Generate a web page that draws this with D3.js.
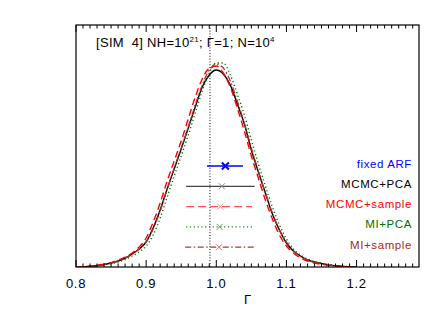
<!DOCTYPE html>
<html>
<head>
<meta charset="utf-8">
<script src="https://cdn.jsdelivr.net/npm/d3@7"></script>
<style>
  body { margin: 0; background: #fff; }
  svg { display: block; font-family: "Liberation Sans", Arial, sans-serif; }
</style>
</head>
<body>
<div id="chart"></div>
<script>
var svgWidth = 443;
var svgHeight = 317;

var margin = { top: 25, right: 24, bottom: 50, left: 76 };
var width = svgWidth - margin.left - margin.right;
var height = svgHeight - margin.top - margin.bottom;

// gamma grid for the posterior curves
var gammaGrid = [0.80, 0.81, 0.82, 0.83, 0.84, 0.85, 0.86, 0.87, 0.88, 0.89,
  0.90, 0.91, 0.92, 0.93, 0.94, 0.95, 0.96, 0.97, 0.98, 0.99,
  1.00, 1.01, 1.02, 1.03, 1.04, 1.05, 1.06, 1.07, 1.08, 1.09,
  1.10, 1.11, 1.12, 1.13, 1.14, 1.15, 1.16, 1.17, 1.18, 1.19, 1.20];

// posterior densities (arbitrary units)
var mcmcPca = [0, 0.3, 0.7, 1.5, 2.5, 4, 6, 9, 13, 18,
  25, 39, 57, 78, 98, 118, 139, 160, 180, 192,
  197, 193, 182, 163, 143, 117, 95, 74, 53, 37,
  24, 16, 11, 7, 5, 3.5, 2, 1.2, 0.6, 0.3, 0];
var mcmcSample = [0, 0.3, 0.8, 1.6, 2.8, 4.4, 6.8, 10, 14, 20,
  29, 45, 64, 86, 106, 126, 148, 170, 188, 199,
  201, 194, 180, 159, 136, 111, 89, 67, 48, 32,
  21, 14, 9, 6, 4, 2.7, 1.6, 0.9, 0.4, 0.2, 0];
var miPca = [0, 0.2, 0.5, 1.1, 2, 3.2, 5, 7.5, 11, 15,
  21, 32, 49, 70, 91, 111, 132, 154, 176, 194,
  204, 204, 192, 173, 152, 127, 103, 81, 60, 42,
  28, 18, 12, 8, 5.5, 3.8, 2.4, 1.4, 0.8, 0.4, 0];
var miSample = [0, 0.3, 0.7, 1.4, 2.5, 3.9, 6, 9, 12.5, 18,
  25, 38, 56, 78, 99, 119, 140, 162, 182, 197,
  203, 199, 186, 166, 144, 119, 96, 74, 54, 37,
  25, 16, 10.5, 7, 4.7, 3.2, 2, 1.1, 0.6, 0.3, 0];

// error bar summaries
var methods = ["fixed ARF", "MCMC+PCA", "MCMC+sample", "MI+PCA", "MI+sample"];
var centers = [1.0129, 1.008, 1.0057, 1.0048, 1.0038];
var lows = [0.9867, 0.957, 0.957, 0.957, 0.9557];
var highs = [1.038, 1.0547, 1.051, 1.0543, 1.0543];

var trueGamma = 0.991;
var xTicks = [0.8, 0.9, 1.0, 1.1, 1.2];

var colors = {
  "fixed ARF": "#0000ff",
  "MCMC+PCA": "#000000",
  "MCMC+sample": "#ff0000",
  "MI+PCA": "#007000",
  "MI+sample": "#a02828"
};
var barColors = ["#0000ff", "#444444", "#ff5050", "#208020", "#a83838"];
var markColors = ["#0000ff", "#888888", "#ff9090", "#60a060", "#d08080"];
var dashes = [null, null, "8,4", "1.2,2.6", "6,2.5,1.5,2.5"];

var svg = d3.select("#chart")
  .append("svg")
  .attr("width", svgWidth)
  .attr("height", svgHeight);

var chartGroup = svg.append("g")
  .attr("transform", `translate(${margin.left}, ${margin.top})`);

var xScale = d3.scaleLinear().domain([0.8, 1.289]).range([0, width]);
var yScale = d3.scaleLinear().domain([0, 242]).range([height, 0]);

// clip
svg.append("clipPath").attr("id", "clip")
  .append("rect").attr("width", width).attr("height", height);

// curves
var line = d3.line()
  .x((d, i) => xScale(gammaGrid[i]))
  .y(d => yScale(d))
  .curve(d3.curveMonotoneX);

var curveGroup = chartGroup.append("g").attr("clip-path", "url(#clip)");
var curves = [
  { vals: mcmcPca, color: "#000000", dash: null, w: 1.4 },
  { vals: miSample, color: "#b03030", dash: "6,2.5,1.5,2.5", w: 1.3 },
  { vals: miPca, color: "#007000", dash: "1.2,2.6", w: 1.4 },
  { vals: mcmcSample, color: "#ff0000", dash: "7,4", w: 1.4 }
];
curves.forEach(function(c) {
  curveGroup.append("path")
    .datum(c.vals)
    .attr("d", line)
    .attr("fill", "none")
    .attr("stroke", c.color)
    .attr("stroke-width", c.w)
    .attr("stroke-dasharray", c.dash);
});

// true value line
chartGroup.append("line")
  .attr("x1", xScale(trueGamma)).attr("x2", xScale(trueGamma))
  .attr("y1", 0).attr("y2", height)
  .attr("stroke", "#000")
  .attr("stroke-width", 1)
  .attr("stroke-dasharray", "1,1.8");

// error bars + legend
var rowY = i => 141 + i * 20.3;
methods.forEach(function(m, i) {
  var y = rowY(i);
  chartGroup.append("line")
    .attr("x1", xScale(lows[i])).attr("x2", xScale(highs[i]))
    .attr("y1", y).attr("y2", y)
    .attr("stroke", barColors[i])
    .attr("stroke-width", i === 0 ? 1.5 : 1.3)
    .attr("stroke-dasharray", dashes[i]);
  var cx = xScale(centers[i]);
  var s = i === 0 ? 3.5 : 3;
  chartGroup.append("path")
    .attr("d", `M${cx - s},${y - s}L${cx + s},${y + s}M${cx - s},${y + s}L${cx + s},${y - s}`)
    .attr("stroke", markColors[i])
    .attr("stroke-width", i === 0 ? 2 : 1)
    .attr("fill", "none");
  chartGroup.append("text")
    .attr("x", 336)
    .attr("y", y + 1.5)
    .attr("text-anchor", "end")
    .attr("font-size", "11.5px")
    .attr("letter-spacing", "0.6px")
    .attr("fill", colors[m])
    .text(m);
});

// axes: bottom and top with minor ticks
var minorTicks = d3.range(80, 129).map(d => d / 100);
function drawTicks(y0, dir) {
  chartGroup.append("g").selectAll("line")
    .data(minorTicks)
    .enter()
    .append("line")
    .attr("x1", d => xScale(d)).attr("x2", d => xScale(d))
    .attr("y1", y0)
    .attr("y2", d => y0 + dir * (xTicks.some(t => Math.abs(t - d) < 1e-6) ? 7 : 3.5))
    .attr("stroke", "#000")
    .attr("stroke-width", 1);
}
drawTicks(height, -1);
drawTicks(0, 1);

chartGroup.append("rect")
  .attr("width", width).attr("height", height)
  .attr("fill", "none")
  .attr("stroke", "#000")
  .attr("stroke-width", 1.2);

chartGroup.append("g").selectAll("text")
  .data(xTicks)
  .enter()
  .append("text")
  .attr("x", d => xScale(d))
  .attr("y", height + 21)
  .attr("text-anchor", "middle")
  .attr("font-size", "13px")
  .attr("letter-spacing", "0.7px")
  .text(d => d.toFixed(1));

chartGroup.append("text")
  .attr("x", width / 2)
  .attr("y", height + 37)
  .attr("text-anchor", "middle")
  .attr("font-size", "13px")
  .text("Γ");

// title
var title = chartGroup.append("text")
  .attr("x", 20)
  .attr("y", 22)
  .attr("font-size", "13px")
  .attr("letter-spacing", "0.3px")
  .style("white-space", "pre");
title.append("tspan").text("[SIM  4] NH=10");
title.append("tspan").attr("font-size", "8px").attr("dy", -5).text("21");
title.append("tspan").attr("dy", 5).text("; Γ=1; N=10");
title.append("tspan").attr("font-size", "8px").attr("dy", -5).text("4");
</script>
</body>
</html>
